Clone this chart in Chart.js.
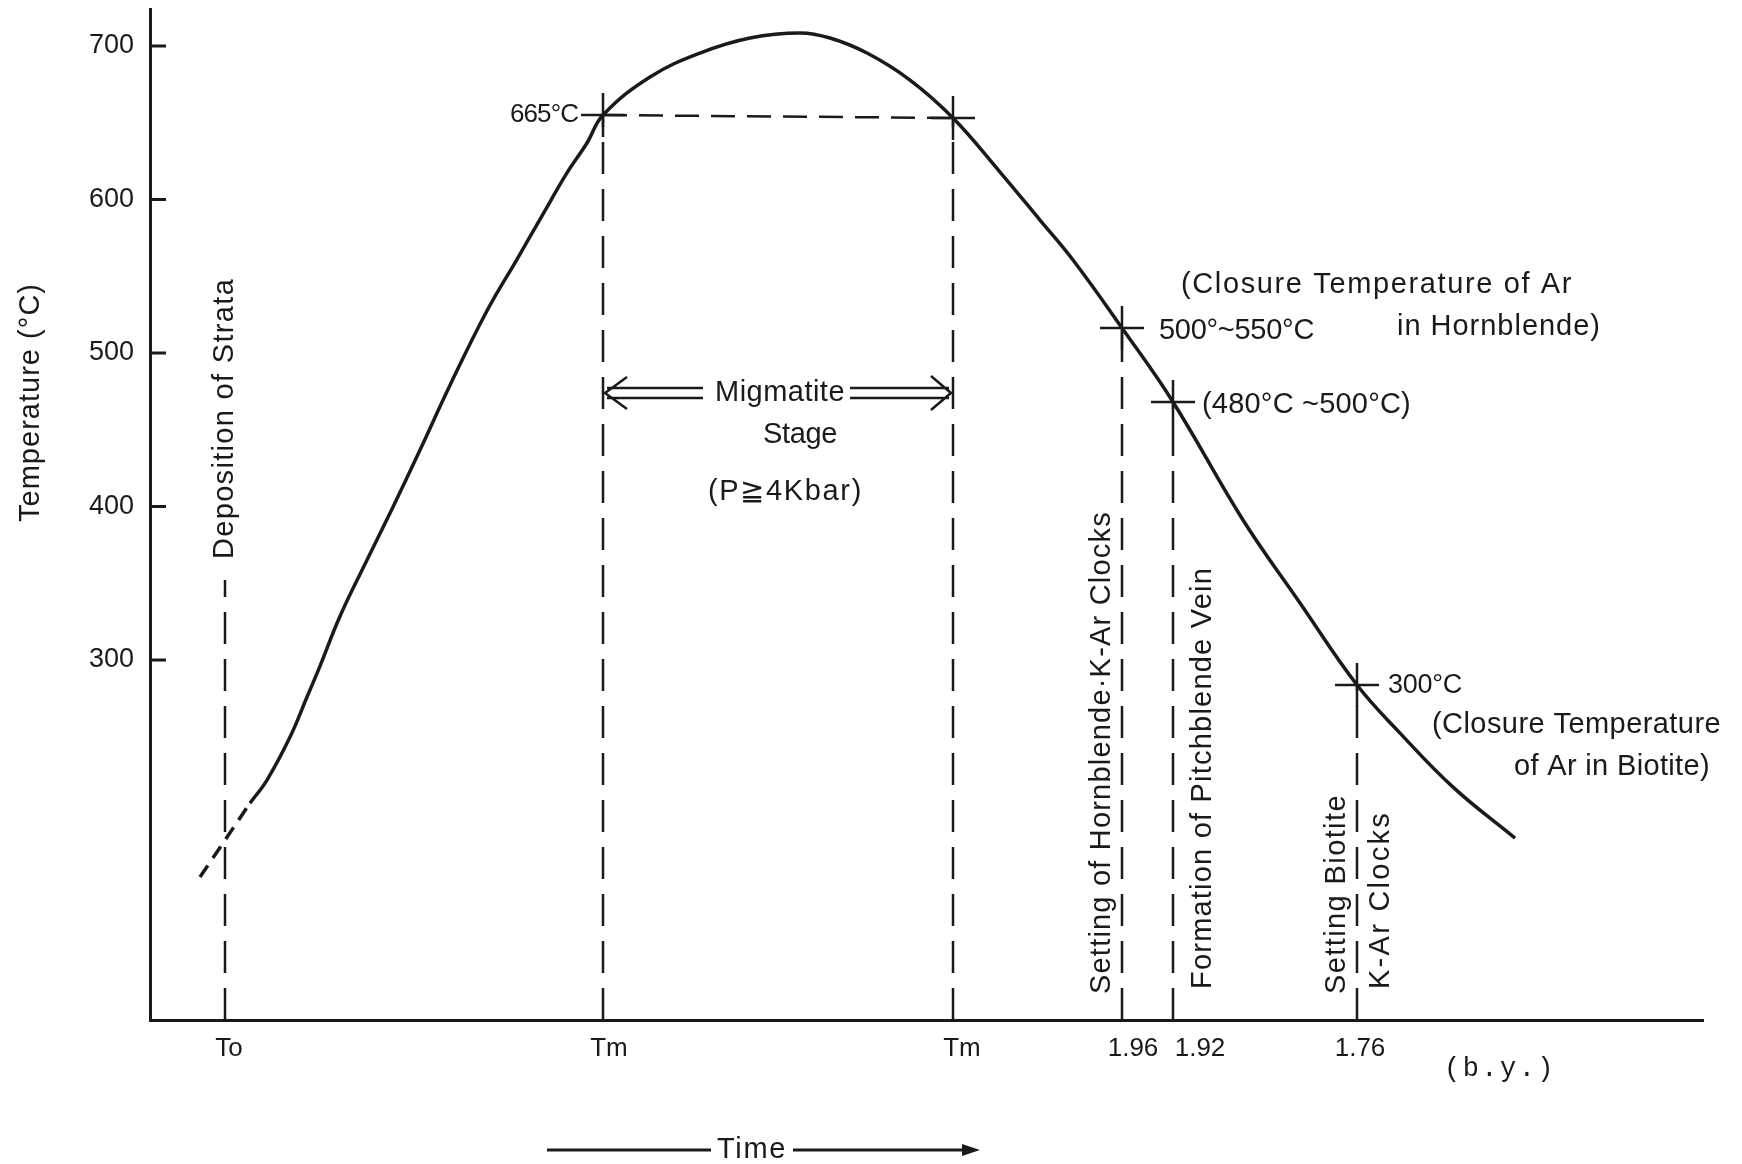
<!DOCTYPE html>
<html>
<head>
<meta charset="utf-8">
<script src="https://cdn.jsdelivr.net/npm/chart.js@4.4.1/dist/chart.umd.min.js"></script>
<style>
  html, body { margin: 0; padding: 0; background: #fff; }
  #chart { display: block; }
</style>
</head>
<body>
<canvas id="chart" width="1742" height="1164"></canvas>
<script>
// time axis is schematic (arbitrary units), temperature in °C

// heating / cooling path
const curveX = [10.0, 11.7, 14.0, 15.7, 17.0, 19.0, 21.7, 24.3, 27.0, 30.0, 33.7, 36.7, 39.3, 41.7, 43.7, 45.3,
                50.0, 55.0, 60.0, 65.0, 68.0, 71.7, 76.0, 80.3, 85.0, 89.0, 92.3, 97.2, 102.3, 109.3, 115.0,
                120.7, 125.0, 130.3, 136.5];
const curveY = [206.8, 221.8, 249.8, 275.9, 296.0, 328.5, 365.1, 399.7, 436.8, 479.0, 527.5, 561.0, 590.5, 617.3, 636.8, 655.0,
                679.8, 695.4, 705.2, 708.5, 705.2, 695.4, 677.8, 653.1, 617.9, 586.6, 560.6, 516.3, 468.1, 391.2, 337.1,
                283.7, 252.4, 217.2, 184.0];

// dashed extrapolation before To
const extrapX = [5.0, 10.0];
const extrapY = [158.6, 206.8];

// events: dashed drop lines to the time axis
const eventNames = ['To', 'Tm', 'Tm', '1.96', '1.92', '1.76'];
const eventX = [7.5, 45.3, 80.3, 97.2, 102.3, 120.7];
const eventTop = [352.1, 655.0, 653.1, 516.3, 468.1, 283.7];

// marked points on the curve
const crossX = [45.3, 80.3, 97.2, 102.3, 120.7];
const crossY = [655.0, 653.1, 516.3, 468.1, 283.7];

// 665°C level across the migmatite stage
const levelX = [45.3, 80.3];
const levelY = [655.0, 653.1];

// tick labels
const xTickPos = [7.9, 45.9, 81.2, 98.3, 105.0, 121.0];
const xTickLabels = ['To', 'Tm', 'Tm', '1.96', '1.92', '1.76'];
const yTicks = [300, 400, 500, 600, 700];

const FONT = '"Liberation Sans Narrow", "Liberation Sans", Arial, sans-serif';
const INK = '#1a1a1a';

// draw text stretched to a given width with letter spacing
function spaced(ctx, text, x, y, width) {
    ctx.letterSpacing = '0px';
    const w = ctx.measureText(text).width;
    let sp = (width - w) / Math.max(text.length, 1);
    sp = Math.max(-1.5, Math.min(sp, 9));
    ctx.letterSpacing = sp.toFixed(2) + 'px';
    ctx.textAlign = 'left';
    ctx.textBaseline = 'middle';
    ctx.fillText(text, x, y);
    ctx.letterSpacing = '0px';
}

const notes = [
    { t: '665°C', x: 510, y: 115, w: 68, size: 26 },
    { t: 'Migmatite', x: 715, y: 393, w: 130 },
    { t: 'Stage', x: 763, y: 435, w: 74 },
    { t: '(P≧4Kbar)', x: 708, y: 492, w: 155 },
    { t: '500°~550°C', x: 1159, y: 331, w: 155 },
    { t: '(480°C ~500°C)', x: 1202, y: 405, w: 209 },
    { t: '(Closure Temperature of Ar', x: 1181, y: 285, w: 392 },
    { t: 'in Hornblende)', x: 1397, y: 327, w: 204 },
    { t: '300°C', x: 1388, y: 686, w: 74, size: 27 },
    { t: '(Closure Temperature', x: 1432, y: 725, w: 289 },
    { t: 'of Ar in Biotite)', x: 1514, y: 767, w: 196 },
    { t: 'Time', x: 717, y: 1150, w: 70 },
];

// vertical texts, reading bottom to top (x = centre, y = bottom)
const vnotes = [
    { t: 'Temperature (°C)', x: 31, y: 522, w: 239 },
    { t: 'Deposition of Strata', x: 225, y: 559, w: 281 },
    { t: 'Setting of Hornblende·K-Ar Clocks', x: 1102, y: 994, w: 483 },
    { t: 'Formation of Pitchblende Vein', x: 1203, y: 989, w: 422 },
    { t: 'Setting Biotite', x: 1337, y: 994, w: 200 },
    { t: 'K-Ar Clocks', x: 1381, y: 989, w: 178 },
];

const decor = {
    id: 'decor',
    afterDraw(chart) {
        const ctx = chart.ctx;
        const xs = chart.scales.x;
        const ys = chart.scales.y;
        const area = chart.chartArea;
        ctx.save();
        ctx.strokeStyle = INK;
        ctx.fillStyle = INK;
        ctx.lineCap = 'butt';

        // inward ticks on temperature axis
        ctx.lineWidth = 3;
        yTicks.forEach(v => {
            const py = ys.getPixelForValue(v);
            ctx.beginPath();
            ctx.moveTo(area.left, py);
            ctx.lineTo(area.left + 16, py);
            ctx.stroke();
        });

        // migmatite double arrow between the two Tm lines
        const x1 = xs.getPixelForValue(eventX[1]);
        const x2 = xs.getPixelForValue(eventX[2]);
        const ay = 393;
        ctx.lineWidth = 2.5;
        ctx.beginPath();
        [ay - 5, ay + 5].forEach(yy => {
            ctx.moveTo(x1 + 4, yy); ctx.lineTo(703, yy);
            ctx.moveTo(850, yy); ctx.lineTo(x2 - 4, yy);
        });
        ctx.moveTo(x1 + 24, ay - 16); ctx.lineTo(x1 + 2, ay); ctx.lineTo(x1 + 24, ay + 16);
        ctx.moveTo(x2 - 22, ay - 17); ctx.lineTo(x2 - 2, ay); ctx.lineTo(x2 - 22, ay + 17);
        ctx.stroke();

        // Time arrow under the axis
        ctx.lineWidth = 3;
        ctx.beginPath();
        ctx.moveTo(547, 1150); ctx.lineTo(711, 1150);
        ctx.moveTo(793, 1150); ctx.lineTo(966, 1150);
        ctx.stroke();
        ctx.beginPath();
        ctx.moveTo(980, 1150); ctx.lineTo(962, 1144); ctx.lineTo(962, 1156); ctx.closePath();
        ctx.fill();

        // horizontal labels
        notes.forEach(n => {
            ctx.font = (n.size || 29) + 'px ' + FONT;
            spaced(ctx, n.t, n.x, n.y, n.w);
        });

        // (b.y.)
        ctx.font = '27px "Liberation Mono", "DejaVu Sans Mono", monospace';
        spaced(ctx, '(b.y.)', 1444, 1069, 112);

        // vertical labels
        ctx.font = '29px ' + FONT;
        vnotes.forEach(n => {
            ctx.save();
            ctx.translate(n.x, n.y);
            ctx.rotate(-Math.PI / 2);
            spaced(ctx, n.t, 0, 0, n.w);
            ctx.restore();
        });
        ctx.restore();
    }
};

const dropLines = eventX.map((x, i) => ({
    label: eventNames[i],
    data: [{ x: x, y: 65.5 }, { x: x, y: eventTop[i] }],
    borderColor: INK,
    borderWidth: 2.5,
    borderDash: [32, 15],
    pointRadius: 0,
    showLine: true,
    order: 3,
}));

const ctx = document.getElementById('chart').getContext('2d');
new Chart(ctx, {
    type: 'line',
    data: {
        datasets: [
            {
                label: 'Temperature',
                data: curveX.map((x, i) => ({ x: x, y: curveY[i] })),
                borderColor: INK,
                borderWidth: 3.5,
                tension: 0.4,
                pointRadius: 0,
                order: 1,
            },
            {
                label: 'Extrapolation',
                data: extrapX.map((x, i) => ({ x: x, y: extrapY[i] })),
                borderColor: INK,
                borderWidth: 3.5,
                borderDash: [14, 9],
                pointRadius: 0,
                order: 1,
            },
            {
                label: '665°C',
                data: levelX.map((x, i) => ({ x: x, y: levelY[i] })),
                borderColor: INK,
                borderWidth: 2.5,
                borderDash: [24, 12],
                pointRadius: 0,
                order: 2,
            },
            {
                label: 'Marks',
                data: crossX.map((x, i) => ({ x: x, y: crossY[i] })),
                showLine: false,
                pointStyle: 'cross',
                pointRadius: 22,
                pointBorderWidth: 2.5,
                pointBorderColor: INK,
                order: 0,
            },
            ...dropLines,
        ],
    },
    options: {
        responsive: false,
        animation: false,
        devicePixelRatio: 1,
        layout: { autoPadding: false, padding: { top: 9, right: 39, left: 0, bottom: 0 } },
        plugins: {
            legend: { display: false },
            tooltip: { enabled: false },
        },
        scales: {
            x: {
                type: 'linear',
                min: 0,
                max: 155.3,
                afterFit(scale) {
                    scale.height = 144;
                    scale.paddingLeft = 0;
                    scale.paddingRight = 0;
                },
                afterBuildTicks(scale) { scale.ticks = xTickPos.map(v => ({ value: v })); },
                grid: { display: false, drawTicks: false },
                border: { display: true, color: INK, width: 3 },
                ticks: {
                    autoSkip: false,
                    maxRotation: 0,
                    padding: 13,
                    color: INK,
                    font: { family: FONT, size: 26 },
                    callback: (v, i) => xTickLabels[i],
                },
            },
            y: {
                type: 'linear',
                min: 65.5,
                max: 724.1,
                afterFit(scale) {
                    scale.width = 150;
                    scale.paddingTop = 0;
                    scale.paddingBottom = 0;
                },
                afterBuildTicks(scale) { scale.ticks = yTicks.map(v => ({ value: v })); },
                grid: { display: false, drawTicks: false },
                border: { display: true, color: INK, width: 3 },
                ticks: {
                    padding: 16,
                    color: INK,
                    font: { family: FONT, size: 27 },
                },
            },
        },
    },
    plugins: [decor],
});
</script>
</body>
</html>
